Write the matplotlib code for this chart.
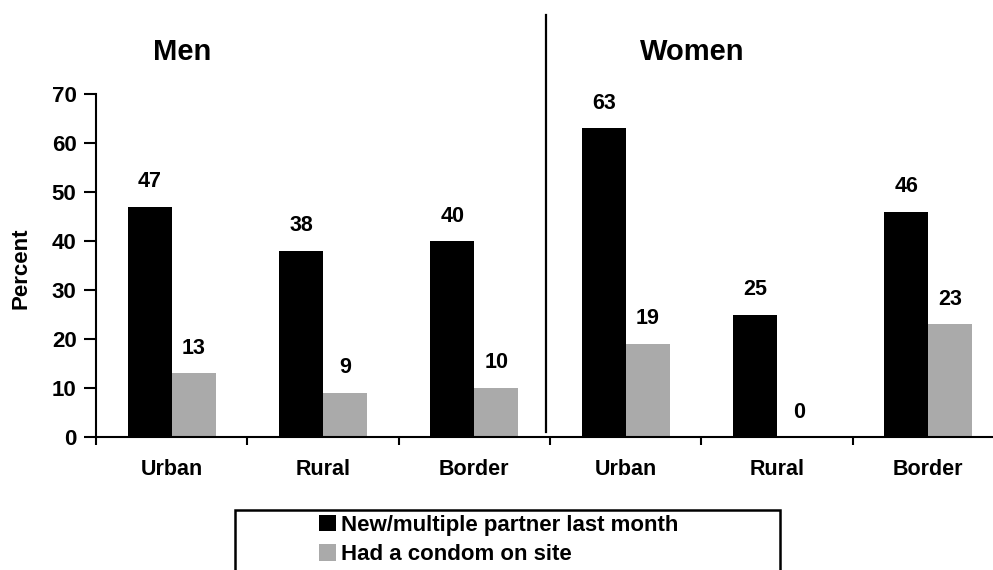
"""Men / Women bar chart: new partner last month vs condom on site."""
import matplotlib
matplotlib.use("Agg")
import matplotlib.pyplot as plt
from matplotlib.lines import Line2D
from matplotlib.patches import Rectangle
import numpy as np

plt.rcParams["font.family"] = ["Liberation Sans", "DejaVu Sans"]
plt.rcParams["font.weight"] = "bold"

categories = ["Urban", "Rural", "Border", "Urban", "Rural", "Border"]
new_partner = [47, 38, 40, 63, 25, 46]
had_condom = [13, 9, 10, 19, 0, 23]
series_labels = ["New/multiple partner last month", "Had a condom on site"]
group_titles = ["Men", "Women"]

W, H = 993, 570
fig = plt.figure(figsize=(W / 100, H / 100), dpi=100)
ax = fig.add_axes([96 / W, (H - 437) / H, 908 / W, (437 - 94) / H])

x = np.arange(len(categories)) + 0.5
bw = 0.29
b1 = ax.bar(x - bw / 2, new_partner, bw, color="black", label=series_labels[0])
b2 = ax.bar(x + bw / 2, had_condom, bw, color="#aaaaaa", label=series_labels[1])

# value labels above bars
for bars in (b1, b2):
    for r in bars:
        h = r.get_height()
        ax.annotate(f"{h:.0f}", (r.get_x() + r.get_width() / 2, h),
                    xytext=(0, 25), textcoords="offset pixels",
                    ha="center", va="center", fontsize=15.5, fontweight="bold")

ax.set_xlim(0, len(categories))
ax.set_ylim(0, 70)
ax.set_yticks(range(0, 71, 10))
ax.set_xticks(range(len(categories) + 1))
ax.set_xticklabels([])
ax.set_xticks(x, minor=True)
ax.set_xticklabels(categories, minor=True)
ax.tick_params(axis="x", which="minor", length=0, pad=16, labelsize=15.5)
ax.tick_params(axis="x", which="major", length=6, width=1.5)
ax.tick_params(axis="y", length=9, width=1.5, pad=5, labelsize=16)
ax.spines[["top", "right"]].set_visible(False)
ax.spines[["left", "bottom"]].set_linewidth(1.5)

fig.text(21 / W, (H - 268) / H, "Percent", rotation=90, ha="center", va="center",
         fontsize=16, fontweight="bold")

# group titles and divider
fig.text(182 / W, (H - 52) / H, group_titles[0], ha="center", va="center",
         fontsize=21, fontweight="bold")
fig.text(692 / W, (H - 52) / H, group_titles[1], ha="center", va="center",
         fontsize=21, fontweight="bold")
fig.add_artist(Line2D([546 / W, 546 / W], [(H - 432) / H, (H - 15) / H],
                      color="black", lw=1.6, transform=fig.transFigure))

# legend box (runs off the bottom edge)
fig.add_artist(Rectangle((235 / W, -0.05), (780 - 235) / W, 0.05 + (H - 510) / H,
                         transform=fig.transFigure, fill=False, ec="black", lw=1.8))
ax.legend(loc="center", bbox_to_anchor=(499 / W, (H - 540) / H),
          bbox_transform=fig.transFigure, frameon=False, fontsize=16,
          handlelength=0.75, handleheight=0.75, handletextpad=0.25,
          labelspacing=0.38, borderaxespad=0)

fig.savefig("out.png", dpi=100)
